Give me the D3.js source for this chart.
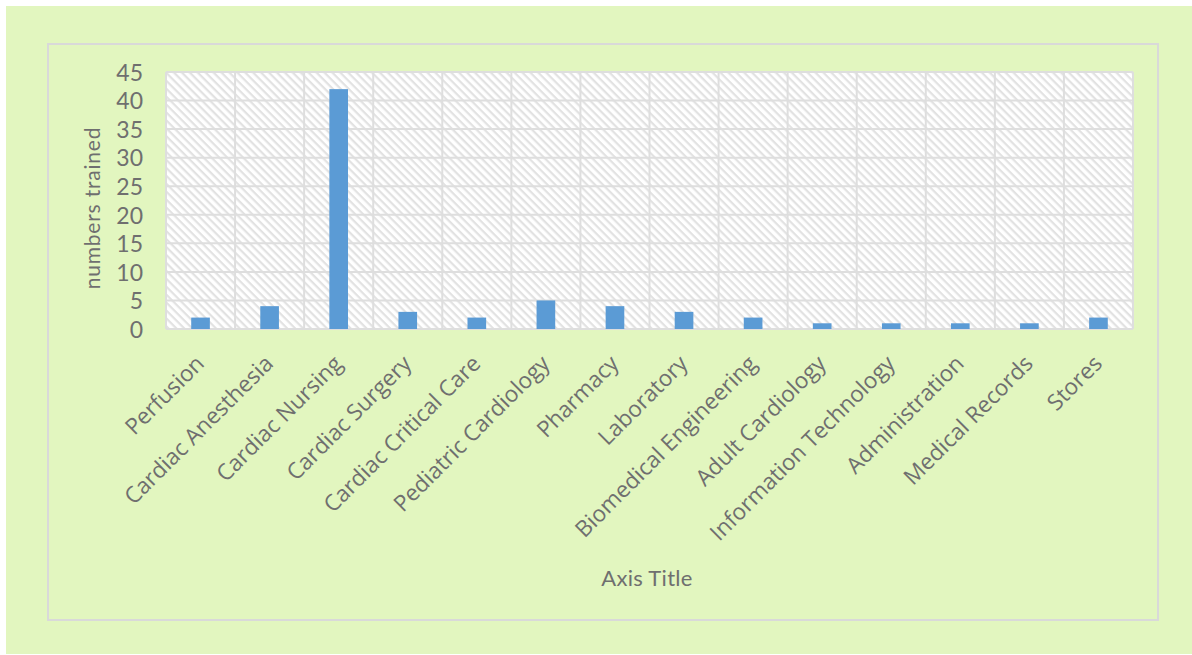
<!DOCTYPE html>
<html>
<head>
<meta charset="utf-8">
<script src="https://cdn.jsdelivr.net/npm/d3@7"></script>
<style>
  html, body { margin: 0; padding: 0; background: #ffffff; }
  svg { display: block; }
</style>
</head>
<body>
<svg id="chart" width="1192" height="655"></svg>
<script>
// Staff trained per department
const categories = [
  "Perfusion", "Cardiac Anesthesia", "Cardiac Nursing", "Cardiac Surgery",
  "Cardiac Critical Care", "Pediatric Cardiology", "Pharmacy", "Laboratory",
  "Biomedical Engineering", "Adult Cardiology", "Information Technology",
  "Administration", "Medical Records", "Stores"
];
const trained = [2, 4, 42, 3, 2, 5, 4, 3, 2, 1, 1, 1, 1, 2];
const yTicks = [0, 5, 10, 15, 20, 25, 30, 35, 40, 45];
const yTitle = "numbers trained";
const xTitle = "Axis Title";

const svg = d3.select("#chart");

// Backgrounds
svg.append("rect").attr("x", 6).attr("y", 6).attr("width", 1186).attr("height", 648)
  .attr("fill", "#e2f6bf");
svg.append("rect").attr("x", 48).attr("y", 44).attr("width", 1110).attr("height", 576)
  .attr("fill", "none").attr("stroke", "#d9d9d9").attr("stroke-width", 2);

// Diagonal hatch fill for the plot area
const defs = svg.append("defs");
const pat = defs.append("pattern").attr("id", "hatch")
  .attr("patternUnits", "userSpaceOnUse").attr("width", 5.6).attr("height", 5.6)
  .attr("patternTransform", "rotate(45)");
pat.append("rect").attr("width", 5.6).attr("height", 5.6).attr("fill", "#ffffff");
pat.append("rect").attr("x", 0).attr("y", 0).attr("width", 5.6).attr("height", 2.2).attr("fill", "#e2e2e2");

const plot = { left: 166, right: 1133, top: 72, bottom: 329 };

const x = d3.scaleBand().domain(categories).range([plot.left, plot.right]).paddingInner(0).paddingOuter(0);
const y = d3.scaleLinear().domain([0, 45]).range([plot.bottom, plot.top]);

svg.append("rect").attr("x", plot.left).attr("y", plot.top)
  .attr("width", plot.right - plot.left).attr("height", plot.bottom - plot.top)
  .attr("fill", "url(#hatch)");

// Grid lines
const grid = svg.append("g").attr("stroke", "#dedede").attr("stroke-width", 2);
grid.selectAll("line.h").data(yTicks).join("line")
  .attr("x1", plot.left).attr("x2", plot.right)
  .attr("y1", d => y(d)).attr("y2", d => y(d));
const bounds = categories.map(c => x(c)).concat([plot.right]);
grid.selectAll("line.v").data(bounds).join("line")
  .attr("x1", d => d).attr("x2", d => d)
  .attr("y1", plot.top).attr("y2", plot.bottom);

// Bars
const barW = x.bandwidth() * 0.27;
svg.append("g").selectAll("rect").data(categories).join("rect")
  .attr("x", (d) => x(d) + x.bandwidth() / 2 - barW / 2)
  .attr("y", (d, i) => y(trained[i]))
  .attr("width", barW)
  .attr("height", (d, i) => y(0) - y(trained[i]))
  .attr("fill", "#5b9bd5");

// Y axis
const yAxis = d3.axisLeft(y).tickValues(yTicks).tickSize(0).tickPadding(0);
const gy = svg.append("g").attr("transform", "translate(143,0)").call(yAxis);
gy.select(".domain").remove();
gy.selectAll("text")
  .attr("font-family", "Lato, 'Noto Sans', sans-serif")
  .attr("font-size", 23).attr("fill", "#6f6f6f").attr("dy", "0.36em");

// X axis labels, rotated
const xAxis = d3.axisBottom(x).tickSize(0).tickPadding(0);
const gx = svg.append("g").attr("transform", `translate(0,${plot.bottom})`).call(xAxis);
gx.select(".domain").remove();
gx.selectAll("text")
  .attr("font-family", "'Open Sans', 'Noto Sans', sans-serif")
  .attr("font-size", 22.5).attr("fill", "#6f6f6f")
  .attr("text-anchor", "end")
  .attr("dy", null).attr("y", 0)
  .attr("transform", "translate(5,36) rotate(-45)");

// Axis titles
svg.append("text").attr("transform", "translate(100,208) rotate(-90)")
  .attr("text-anchor", "middle")
  .attr("font-family", "Lato, 'Noto Sans', sans-serif")
  .attr("font-size", 21).attr("letter-spacing", 0.8).attr("fill", "#6f6f6f").text(yTitle);
svg.append("text").attr("x", 647).attr("y", 586)
  .attr("text-anchor", "middle")
  .attr("font-family", "Lato, 'Noto Sans', sans-serif")
  .attr("font-size", 22).attr("letter-spacing", 0.3).attr("fill", "#6f6f6f").text(xTitle);
</script>
</body>
</html>
